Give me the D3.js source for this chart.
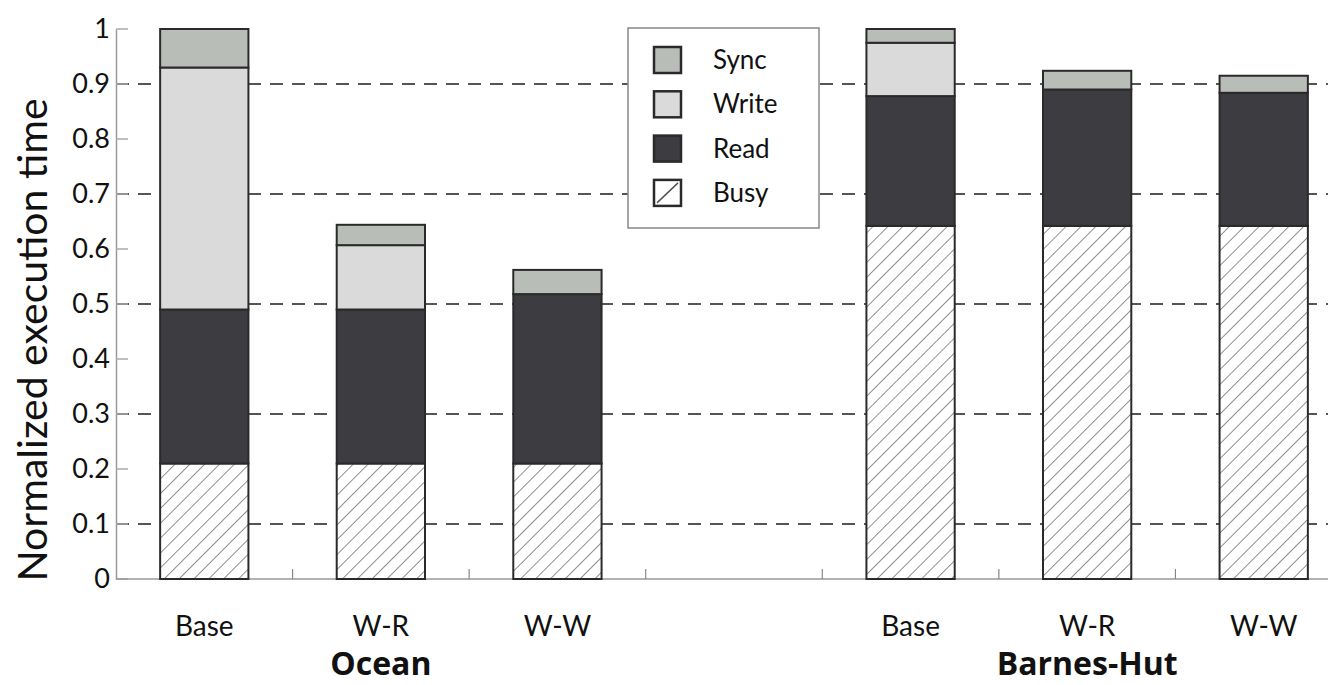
<!DOCTYPE html>
<html><head><meta charset="utf-8">
<script src="https://cdn.jsdelivr.net/npm/d3@7"></script>
<style>body{margin:0;background:#fff;}svg{display:block;font-family:Lato,"Open Sans",sans-serif;}</style>
</head><body><svg id="c" width="1328" height="685"></svg>
<script>
const slots = ["O-Base","O-W-R","O-W-W","gap","B-Base","B-W-R","B-W-W"];
const barSlots = ["O-Base","O-W-R","O-W-W","B-Base","B-W-R","B-W-W"];
const barLabels = ["Base","W-R","W-W","Base","W-R","W-W"];
const groups = ["Ocean","Barnes-Hut"];
const series = ["Busy","Read","Write","Sync"];
const busy  = [0.21, 0.21, 0.21, 0.642, 0.642, 0.642];
const read  = [0.28, 0.28, 0.308, 0.236, 0.248, 0.242];
const write = [0.44, 0.117, 0.0, 0.097, 0.0, 0.0];
const sync  = [0.07, 0.037, 0.044, 0.025, 0.034, 0.031];
const yTicks = [0,0.1,0.2,0.3,0.4,0.5,0.6,0.7,0.8,0.9,1];
const yTickLabels = ["0","0.1","0.2","0.3","0.4","0.5","0.6","0.7","0.8","0.9","1"];
const gridVals = [0.1,0.3,0.5,0.7,0.9];

const svg = d3.select("#c");
const x = d3.scaleBand().domain(slots).range([116,1352]).paddingInner(0.5).paddingOuter(0.25);
const y = d3.scaleLinear().domain([0,1]).range([579,29]);
const colors = {Busy:"url(#hatch)", Read:"#3c3c41", Write:"#dadada", Sync:"#b9bdb8"};

const defs = svg.append("defs");
const pat = defs.append("pattern").attr("id","hatch").attr("patternUnits","userSpaceOnUse")
  .attr("width",10.5).attr("height",10.5).attr("patternTransform","rotate(45)");
pat.append("rect").attr("width",10.5).attr("height",10.5).attr("fill","#fff");
pat.append("line").attr("x1",0).attr("y1",0).attr("x2",0).attr("y2",10.5).attr("stroke","#555").attr("stroke-width",1.3);

// gridlines
svg.append("g").selectAll("line").data(gridVals).join("line")
  .attr("x1",116).attr("x2",1328).attr("y1",d=>y(d)).attr("y2",d=>y(d))
  .attr("stroke","#555").attr("stroke-width",2).attr("stroke-dasharray","13,9");

// y axis
const yAxis = d3.axisLeft(y).tickValues(yTicks).tickFormat((d,i)=>yTickLabels[i]).tickSize(0).tickPadding(6);
const gy = svg.append("g").attr("transform","translate(116,0)").call(yAxis);
gy.select(".domain").attr("stroke","#999").attr("stroke-width",1.5);
gy.selectAll("text").attr("font-size",27).attr("fill","#111").attr("font-family","Lato");
svg.append("g").selectAll("line").data(yTicks).join("line")
  .attr("x1",116).attr("x2",128).attr("y1",d=>y(d)).attr("y2",d=>y(d))
  .attr("stroke","#aaa").attr("stroke-width",1.5);

// x axis baseline and slot ticks
svg.append("line").attr("x1",116).attr("x2",1328).attr("y1",y(0)).attr("y2",y(0)).attr("stroke","#999").attr("stroke-width",1.5);
svg.append("g").selectAll("line").data(slots.slice(1)).join("line")
  .attr("x1",d=>x(d)-x.step()*x.paddingInner()/2).attr("x2",d=>x(d)-x.step()*x.paddingInner()/2)
  .attr("y1",y(0)).attr("y2",y(0)-10).attr("stroke","#888").attr("stroke-width",1.2);

// stacked bars
const rows = barSlots.map((s,i)=>({slot:s, Busy:busy[i], Read:read[i], Write:write[i], Sync:sync[i]}));
const stack = d3.stack().keys(series)(rows);
const gBars = svg.append("g");
stack.forEach(layer=>{
  gBars.append("g").selectAll("rect").data(layer.filter(d=>d[1]-d[0]>0)).join("rect")
    .attr("x",d=>x(d.data.slot)).attr("width",x.bandwidth())
    .attr("y",d=>y(d[1])).attr("height",d=>y(d[0])-y(d[1]))
    .attr("fill",colors[layer.key]).attr("stroke","#2a2a2a").attr("stroke-width",2);
});

// x labels
svg.append("g").selectAll("text").data(barSlots).join("text")
  .attr("x",d=>x(d)+x.bandwidth()/2).attr("y",636).attr("text-anchor","middle")
  .attr("font-size",28).attr("fill","#111").text((d,i)=>barLabels[i]);
const groupCenters = [[barSlots[0],barSlots[2]],[barSlots[3],barSlots[5]]];
svg.append("g").selectAll("text").data(groups).join("text")
  .attr("x",(d,i)=>(x(groupCenters[i][0])+x(groupCenters[i][1])+x.bandwidth())/2)
  .attr("y",675).attr("text-anchor","middle").attr("font-size",32).attr("font-weight","bold")
  .attr("font-family","'Open Sans'").attr("fill","#111").text(d=>d);

// y title
svg.append("text").attr("transform","translate(47,340) rotate(-90)").attr("text-anchor","middle")
  .attr("font-size",41).attr("fill","#111").text("Normalized execution time");

// legend
const lg = svg.append("g").attr("transform","translate(628,28)");
lg.append("rect").attr("width",191).attr("height",200).attr("fill","#fff").attr("stroke","#888").attr("stroke-width",1.5);
const legItems = ["Sync","Write","Read","Busy"];
const li = lg.selectAll("g").data(legItems).join("g").attr("transform",(d,i)=>`translate(0,${32+i*44.3})`);
li.append("rect").attr("x",26).attr("y",-13).attr("width",27).attr("height",26)
  .attr("fill",d=>d==="Busy"?"#fff":colors[d]).attr("stroke","#2a2a2a").attr("stroke-width",2.5);
li.filter(d=>d==="Busy").append("line").attr("x1",29).attr("y1",10).attr("x2",50).attr("y2",-10)
  .attr("stroke","#555").attr("stroke-width",1.5);
li.append("text").attr("x",85).attr("y",9).attr("font-size",26).attr("fill","#111").text(d=>d);
</script></body></html>
